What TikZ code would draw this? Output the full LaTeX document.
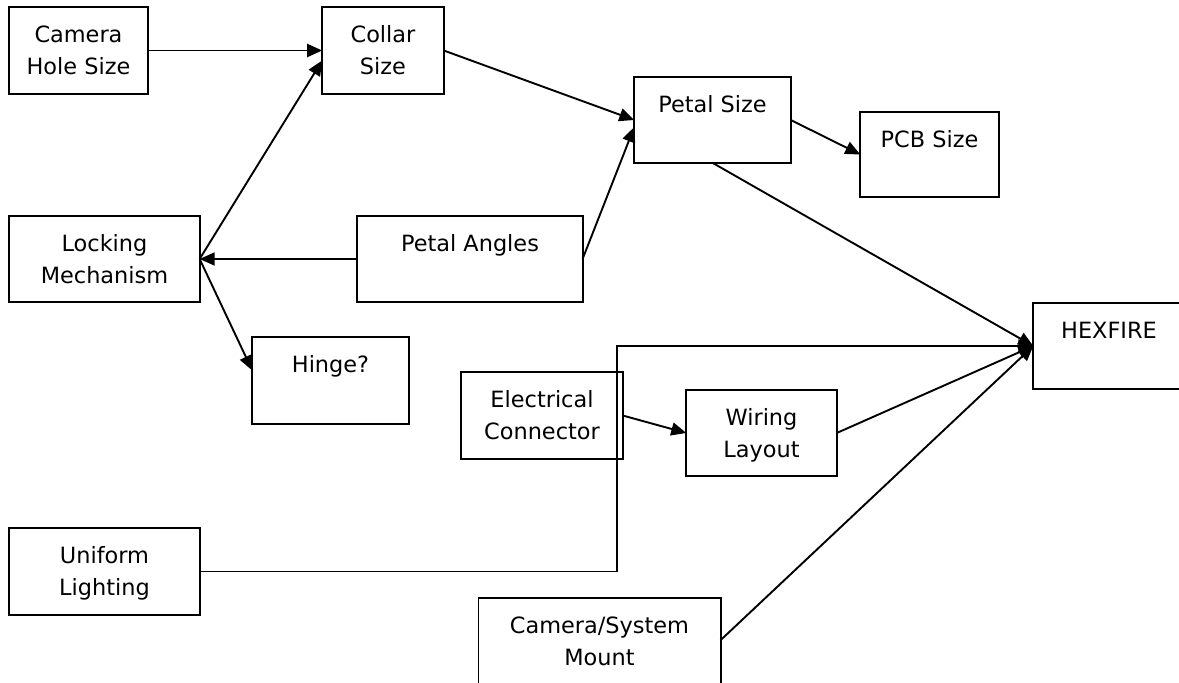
\documentclass[tikz,border=0pt]{standalone}
\usepackage{fontspec}
\setmainfont{DejaVu Sans}
\usetikzlibrary{arrows.meta,calc}
\newcommand\fl{\rule{0pt}{18bp}}
\begin{document}
\begin{tikzpicture}[x=1bp,y=-1bp,
  box/.style={draw, line width=1.9bp, rectangle, inner sep=0pt, outer sep=0pt},
  txt/.style={anchor=north, align=center, inner sep=0pt, font=\fontsize{22.5}{32}\selectfont},
  conn/.style={line width=1.9bp},
  arr/.style={conn, -{Triangle[length=15bp,width=13bp]}}]
\useasboundingbox (0,0) rectangle (1179,683);

% boxes
\node[box, minimum width=139, minimum height=87] (cam)  at (78.5,50.5) {};
\node[box, minimum width=122, minimum height=87] (col)  at (383,50.5) {};
\node[box, minimum width=157, minimum height=86] (pet)  at (712.5,120) {};
\node[box, minimum width=139, minimum height=85] (pcb)  at (929.5,154.5) {};
\node[box, minimum width=191, minimum height=86] (lock) at (104.5,259) {};
\node[box, minimum width=226, minimum height=86] (ang)  at (470,259) {};
\node[box, minimum width=157, minimum height=87] (hin)  at (330.5,380.5) {};
\node[box, minimum width=152, minimum height=86] (hex)  at (1109,346) {};
\node[box, minimum width=162, minimum height=87] (elec) at (542,415.5) {};
\node[box, minimum width=151, minimum height=86] (wir)  at (761.5,433) {};
\node[box, minimum width=191, minimum height=87] (uni)  at (104.5,571.5) {};
\node[box, minimum width=243, minimum height=102] (mnt) at (599.5,649) {};

% texts
\node[txt] (tcam)  at ($(cam.north)+(0,17)$)  {\fl Camera\\Hole Size};
\node[txt] (tcol)  at ($(col.north)+(0,17)$)  {\fl Collar\\Size};
\node[txt] (tpet)  at ($(pet.north)+(0,17)$)  {\fl Petal Size};
\node[txt] (tpcb)  at ($(pcb.north)+(0,17)$)  {\fl PCB Size};
\node[txt] (tlock) at ($(lock.north)+(0,17)$) {\fl Locking\\Mechanism};
\node[txt] (tang)  at ($(ang.north)+(0,17)$)  {\fl Petal Angles};
\node[txt] (thin)  at ($(hin.north)+(0,17)$)  {\fl Hinge?};
\node[txt] (thex)  at ($(hex.north)+(0,17)$)  {\fl HEXFIRE};
\node[txt] (telec) at ($(elec.north)+(0,17)$) {\fl Electrical\\Connector};
\node[txt] (twir)  at ($(wir.north)+(0,17)$)  {\fl Wiring\\Layout};
\node[txt] (tuni)  at ($(uni.north)+(0,17)$)  {\fl Uniform\\Lighting};
\node[txt] (tmnt)  at ($(mnt.north)+(0,17)$)  {\fl Camera/System\\Mount};

% helper coordinates
\coordinate (colin)  at ($(col.west)+(0,10)$);
\coordinate (petin)  at ($(pet.west)+(0,7)$);
\coordinate (hinin)  at ($(hin.west)+(0,-10)$);
\coordinate (bend)   at (617,346);
\coordinate (mntout) at ($(mnt.north east)+(0,42)$);

% connectors
\draw[arr] (cam.east) -- (col.west);
\draw[arr] (lock.east) -- (colin);
\draw[arr] (col.east) -- (pet.west);
\draw[arr] (ang.east) -- (petin);
\draw[arr] (ang.west) -- (lock.east);
\draw[arr] (lock.east) -- (hinin);
\draw[arr] (pet.east) -- (pcb.west);
\draw[arr] (pet.south) -- (hex.west);
\draw[arr] (uni.east) -| (bend) -- (hex.west);
\draw[arr] (elec.east) -- (wir.west);
\draw[arr] (wir.east) -- (hex.west);
\draw[arr] (mntout) -- (hex.west);
\end{tikzpicture}
\end{document}
